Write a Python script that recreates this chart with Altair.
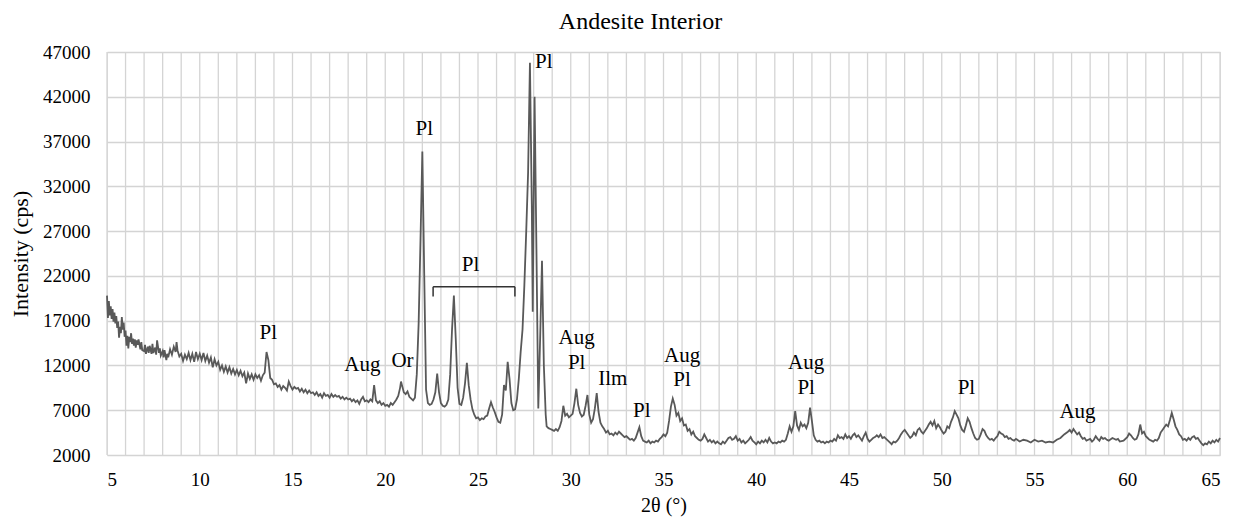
import altair as alt
import pandas as pd

two_theta = [
    5.0, 5.05, 5.1, 5.15, 5.2, 5.25, 5.3, 5.35, 5.4, 5.45, 5.5, 5.55, 5.6, 5.65, 5.7, 5.75, 5.8, 5.85, 5.9, 5.95,
    6.0, 6.05, 6.1, 6.15, 6.2, 6.25, 6.3, 6.35, 6.4, 6.45, 6.5, 6.55, 6.6, 6.65, 6.7, 6.8, 6.85, 6.9,
    7.0, 7.05, 7.1, 7.2, 7.25, 7.3, 7.4, 7.45, 7.5, 7.6, 7.65, 7.7, 7.8, 7.85, 7.9,
    8.0, 8.05, 8.1, 8.2, 8.25, 8.3, 8.4, 8.5, 8.6, 8.7, 8.75, 8.8, 8.9,
    9.0, 9.1, 9.2, 9.3, 9.4, 9.5, 9.6, 9.7, 9.8, 9.9,
    10.0, 10.1, 10.2, 10.3, 10.4, 10.5, 10.6, 10.7, 10.8, 10.9,
    11.0, 11.1, 11.2, 11.3, 11.4, 11.5, 11.6, 11.7, 11.8, 11.9,
    12.0, 12.1, 12.2, 12.3, 12.4, 12.5, 12.6, 12.7, 12.8, 12.9,
    13.0, 13.1, 13.2, 13.3, 13.4, 13.5, 13.6, 13.7, 13.8, 13.9,
    14.0, 14.1, 14.2, 14.3, 14.4, 14.5, 14.6, 14.7, 14.8, 14.9,
    15.0, 15.1, 15.2, 15.3, 15.4, 15.5, 15.6, 15.7, 15.8, 15.9,
    16.0, 16.1, 16.2, 16.3, 16.4, 16.5, 16.6, 16.7, 16.8, 16.9,
    17.0, 17.1, 17.2, 17.3, 17.4, 17.5, 17.6, 17.7, 17.8, 17.9,
    18.0, 18.1, 18.2, 18.3, 18.4, 18.5, 18.6, 18.7, 18.8, 18.9,
    19.0, 19.1, 19.2, 19.3, 19.4, 19.5, 19.6, 19.7, 19.8, 19.9,
    20.0, 20.1, 20.2, 20.3, 20.4, 20.5, 20.6, 20.7, 20.8, 20.85, 20.9,
    21.0, 21.1, 21.2, 21.3, 21.4, 21.5, 21.6, 21.7, 21.8, 21.9,
    22.0, 22.1, 22.2, 22.3, 22.4, 22.5, 22.6, 22.7, 22.8, 22.9,
    23.0, 23.1, 23.2, 23.3, 23.4, 23.5, 23.6, 23.7, 23.8, 23.9,
    24.0, 24.1, 24.2, 24.3, 24.4, 24.5, 24.6, 24.7, 24.8, 24.9,
    25.0, 25.1, 25.2, 25.3, 25.4, 25.5, 25.6, 25.7, 25.8, 25.9,
    26.0, 26.1, 26.2, 26.3, 26.4, 26.5, 26.6, 26.7, 26.8, 26.9,
    27.0, 27.1, 27.2, 27.3, 27.4, 27.5, 27.6, 27.7, 27.8, 27.9, 27.95,
    28.05, 28.15, 28.25, 28.35, 28.45, 28.55, 28.65, 28.7, 28.8, 28.9,
    29.0, 29.1, 29.2, 29.3, 29.4, 29.5, 29.6, 29.7, 29.8, 29.9,
    30.0, 30.1, 30.2, 30.3, 30.4, 30.5, 30.6, 30.7, 30.8, 30.9,
    31.0, 31.1, 31.2, 31.3, 31.4, 31.5, 31.6, 31.7, 31.8, 31.9,
    32.0, 32.1, 32.2, 32.3, 32.4, 32.5, 32.6, 32.7, 32.8, 32.9,
    33.0, 33.1, 33.2, 33.3, 33.4, 33.5, 33.6, 33.7, 33.8, 33.9,
    34.0, 34.1, 34.2, 34.3, 34.4, 34.5, 34.6, 34.7, 34.8, 34.9,
    35.0, 35.1, 35.2, 35.3, 35.4, 35.5, 35.6, 35.7, 35.8, 35.9,
    36.0, 36.1, 36.2, 36.3, 36.4, 36.5, 36.6, 36.7, 36.8, 36.9,
    37.0, 37.1, 37.2, 37.3, 37.4, 37.5, 37.6, 37.7, 37.8, 37.9,
    38.0, 38.1, 38.2, 38.3, 38.4, 38.5, 38.6, 38.7, 38.8, 38.9,
    39.0, 39.1, 39.2, 39.3, 39.4, 39.5, 39.6, 39.7, 39.8, 39.9,
    40.0, 40.1, 40.2, 40.3, 40.4, 40.5, 40.6, 40.7, 40.8, 40.9,
    41.0, 41.1, 41.2, 41.3, 41.4, 41.5, 41.6, 41.7, 41.8, 41.9,
    42.0, 42.1, 42.2, 42.3, 42.4, 42.5, 42.6, 42.7, 42.8, 42.9,
    43.0, 43.1, 43.2, 43.3, 43.4, 43.5, 43.6, 43.7, 43.8, 43.9,
    44.0, 44.1, 44.2, 44.3, 44.4, 44.5, 44.6, 44.7, 44.8, 44.9,
    45.0, 45.1, 45.2, 45.3, 45.4, 45.5, 45.6, 45.7, 45.8, 45.9,
    46.0, 46.1, 46.2, 46.3, 46.4, 46.5, 46.6, 46.7, 46.8, 46.9,
    47.0, 47.1, 47.2, 47.3, 47.4, 47.5, 47.6, 47.7, 47.8, 47.9,
    48.0, 48.1, 48.2, 48.3, 48.4, 48.5, 48.6, 48.7, 48.8, 48.9,
    49.0, 49.1, 49.2, 49.3, 49.4, 49.5, 49.6, 49.7, 49.8, 49.9,
    50.0, 50.1, 50.2, 50.3, 50.4, 50.5, 50.6, 50.7, 50.8, 50.9,
    51.0, 51.1, 51.2, 51.3, 51.4, 51.5, 51.6, 51.7, 51.8, 51.9,
    52.0, 52.1, 52.2, 52.3, 52.4, 52.5, 52.6, 52.7, 52.8, 52.9,
    53.0, 53.1, 53.2, 53.3, 53.4, 53.5, 53.6, 53.7, 53.8, 53.9,
    54.0, 54.2, 54.4, 54.6, 54.8, 55.0, 55.2, 55.4, 55.6, 55.8,
    56.0, 56.2, 56.4, 56.6, 56.8, 56.9, 57.0, 57.1, 57.2, 57.3, 57.4, 57.5, 57.6, 57.7, 57.8, 57.9,
    58.0, 58.1, 58.2, 58.3, 58.4, 58.5, 58.6, 58.7, 58.8, 58.9,
    59.0, 59.2, 59.4, 59.5, 59.6, 59.8,
    60.0, 60.1, 60.2, 60.3, 60.4, 60.5, 60.6, 60.7, 60.8, 60.9,
    61.0, 61.1, 61.2, 61.3, 61.4, 61.5, 61.6, 61.7, 61.8, 61.9,
    62.0, 62.1, 62.2, 62.3, 62.4, 62.5, 62.6, 62.7, 62.8, 62.9,
    63.0, 63.1, 63.2, 63.3, 63.4, 63.5, 63.6, 63.7, 63.8, 63.9,
    64.0, 64.1, 64.2, 64.3, 64.4, 64.5, 64.6, 64.7, 64.8, 64.9, 65.0,
]

intensity = [
    19800, 17300, 19200, 17600, 18600, 17200, 18300, 16900, 17900, 16700, 17500, 16200, 16900, 15100, 16300, 15600, 17400, 16000, 16800, 15200,
    15900, 14200, 15300, 13900, 15200, 14600, 15600, 14400, 15000, 14200, 14900, 14000, 14800, 14300, 14900, 13800, 14600, 13700,
    13600, 14300, 13300, 14100, 13400, 14200, 13300, 14400, 13400, 14000, 13200, 14800, 13400, 13900, 13100,
    13600, 12900, 13700, 12600, 13300, 12900, 13800, 13200, 14100, 13500, 14600, 13700, 13000,
    13300, 12500, 13200, 12700, 13400, 12600, 13300, 12400, 13500, 12700,
    13300, 12600, 13400, 12500, 13100, 12300, 12900, 11800, 12700, 12000,
    12400, 11500, 12000, 11300, 11900, 11200, 11800, 11100, 11600, 11000,
    11500, 10900, 11400, 10800, 11200, 10000, 11100, 10500, 11000, 10400,
    11000, 10600, 10900, 10300, 10900, 11200, 13500, 12600, 10600, 10400,
    9900, 10000, 9600, 9800, 9300, 9700, 9500, 9200, 10200, 9700,
    9300, 9600, 9400, 9500, 9100, 9400, 9000, 9300, 8900, 9200,
    8900, 9000, 8700, 9000, 8600, 8800, 8400, 8900, 8600, 8700,
    8400, 8800, 8500, 8700, 8500, 8600, 8300, 8500, 8200, 8400,
    8200, 8300, 8000, 8200, 7900, 8100, 7700, 8200, 8500, 8000,
    8100, 7900, 8200, 8000, 9800, 8100, 7800, 8000, 7600, 7800,
    7500, 7600, 7400, 7800, 7600, 7900, 8200, 8600, 9500, 10200, 9800,
    9000, 8800, 9100, 8500, 8300, 8100, 8400, 11000, 16700, 26000,
    35900, 22300, 9300, 7800, 7600, 7700, 8200, 9000, 11100, 9000,
    7800, 7500, 7400, 7600, 8200, 11000, 16000, 19800, 15000, 9500,
    7700, 7600, 8400, 10000, 12300, 9800, 8200, 7100, 6500, 6100,
    6200, 5900, 6100, 6000, 6300, 6400, 7200, 7900, 7300, 6800,
    6200, 5700, 5600, 6500, 9800, 9200, 12400, 10500, 7800, 7000,
    7100, 8200, 10500, 13500, 16000, 21000, 27000, 33500, 45800, 30000, 18000,
    42000, 25000, 7200, 15000, 23700, 12000, 6500, 5200, 5000, 4900,
    4800, 4700, 4900, 4700, 5100, 5800, 7500, 6400, 6600, 6200,
    6400, 6600, 7800, 9400, 7600, 6700, 6300, 6500, 7500, 8700,
    6500, 5600, 6000, 7200, 8900, 6800, 5600, 5200, 4900, 4500,
    4700, 4300, 4400, 4200, 4500, 4300, 4600, 4400, 4200, 4000,
    4100, 3900, 3700, 3800, 3600, 3900, 4500, 5100, 4100, 3600,
    3500, 3400, 3600, 3300, 3500, 3400, 3600, 3500, 3800, 4000,
    4300, 4100, 4500, 5800, 7400, 8300, 7600, 6400, 6700, 5800,
    6100, 5300, 5400, 4700, 4900, 4300, 4600, 4100, 3900, 3700,
    3600, 3800, 4300, 3900, 3500, 3700, 3400, 3600, 3300, 3500,
    3300, 3200, 3500, 3300, 3600, 3900, 4000, 3700, 3800, 4100,
    3600, 3800, 3400, 3600, 3300, 3500, 3700, 4000, 3600, 3400,
    3200, 3500, 3300, 3600, 3400, 3700, 3400, 3900, 3500, 3300,
    3400, 3300, 3500, 3400, 3600, 3500, 3700, 4400, 5200, 4600,
    5200, 6900, 5300, 4800, 5600, 5200, 5400, 5000, 5600, 7300,
    5800, 4200, 3700, 3500, 3600, 3400, 3500, 3300, 3500, 3400,
    3600, 3500, 3800, 3600, 4200, 3900, 4000, 3800, 4300, 3900,
    4100, 3800, 4200, 4400, 4000, 4200, 3900, 3600, 4100, 4500,
    3800, 3500, 3700, 3900, 4000, 4200, 4000, 4300, 3900, 4000,
    3800, 3600, 3400, 3200, 3500, 3400, 3600, 3900, 4300, 4600,
    4800, 4500, 4200, 3900, 4100, 4500, 4200, 4800, 5000, 4600,
    4400, 4700, 5000, 5400, 5700, 5300, 5800, 5000, 5400, 5100,
    4700, 4400, 4600, 5200, 5000, 5700, 6200, 6900, 6500, 6100,
    5300, 4800, 4600, 5300, 6100, 5700, 5000, 4400, 3900, 3700,
    3800, 4300, 4900, 4700, 4200, 3900, 3700, 3800, 3600, 3900,
    4100, 4600, 4400, 4300, 4000, 4100, 3800, 3900, 3700, 3600,
    3800, 3500, 3700, 3600, 3400, 3700, 3500, 3600, 3400, 3500,
    3400, 3700, 3900, 4300, 4600, 4800, 4500, 4900, 4600, 4300, 4500, 4100, 3800, 3900, 3600, 3700,
    3800, 3500, 3700, 4100, 3800, 3600, 4000, 3800, 3900, 3700,
    3600, 3900, 3700, 3800, 3500, 3600,
    4000, 4400, 4200, 3900, 3700, 3800, 4300, 5400, 4400, 4600,
    4100, 3900, 3700, 3600, 3500, 3700, 3600, 3900, 4500, 4800,
    5100, 5400, 5200, 5900, 6700, 6000, 5200, 4800, 4300, 4100,
    3700, 3800, 3600, 3900, 3700, 4000, 4100, 3800, 3900, 3600,
    3300, 3100, 3300, 3200, 3500, 3300, 3600, 3400, 3700, 3500, 3900,
]

label_text = ["Pl", "Aug", "Or", "Pl", "Pl", "Pl", "Aug", "Pl", "Ilm", "Pl", "Aug", "Pl", "Aug", "Pl", "Pl", "Aug"]
label_x = [13.69, 18.77, 20.93, 22.1, 24.6, 28.55, 30.32, 30.32, 32.27, 33.83, 36.0, 36.0, 42.69, 42.69, 51.33, 57.32]
label_y = [15630, 12050, 12500, 38400, 23250, 45900, 15070, 12280, 10490, 6900, 13060, 10380, 12280, 9480, 9480, 6800]

bracket_x = [22.58, 22.58, 26.99]
bracket_x2 = [26.99, 22.58, 26.99]
bracket_y = [20800, 20800, 20800]
bracket_y2 = [20800, 19700, 19700]

y_ticks = [2000, 7000, 12000, 17000, 22000, 27000, 32000, 37000, 42000, 47000]
x_ticks = [5, 10, 15, 20, 25, 30, 35, 40, 45, 50, 55, 60, 65]
x_grid = list(range(5, 66))

FONT = "Liberation Serif, Times New Roman, DejaVu Serif, serif"
GRID = "#d4d4d4"

df = pd.DataFrame({"x": two_theta, "y": intensity})
labels = pd.DataFrame({"t": label_text, "x": label_x, "y": label_y})
brackets = pd.DataFrame({"x": bracket_x, "x2": bracket_x2, "y": bracket_y, "y2": bracket_y2})
grid_df = pd.DataFrame({"x": x_grid})

xscale = alt.Scale(domain=[5, 65], nice=False, zero=False)
yscale = alt.Scale(domain=[2000, 47000], nice=False, zero=False)

x_axis = alt.Axis(values=x_ticks, title="2θ (°)", format="d",
                  grid=False, ticks=False, domain=False, labelPadding=15,
                  labelOverlap=False,
                  labelFont=FONT, labelFontSize=19, labelColor="#000",
                  titleFont=FONT, titleFontSize=20, titleFontWeight="normal",
                  titleColor="#000", titleY=50, titleBaseline="middle")

y_axis = alt.Axis(values=y_ticks, title="Intensity (cps)", format="d",
                  grid=True, gridColor=GRID, gridWidth=1.5,
                  ticks=False, domain=False, labelPadding=17,
                  labelOverlap=False,
                  labelFont=FONT, labelFontSize=19, labelColor="#000",
                  titleFont=FONT, titleFontSize=22, titleFontWeight="normal",
                  titleColor="#000", titleX=-87, titleBaseline="middle")

vgrid = alt.Chart(grid_df).mark_rule(color=GRID, strokeWidth=1.3).encode(
    x=alt.X("x:Q", scale=xscale, axis=x_axis),
)

line = alt.Chart(df).mark_line(color="#595959", strokeWidth=1.8).encode(
    x=alt.X("x:Q", scale=xscale, axis=x_axis),
    y=alt.Y("y:Q", scale=yscale, axis=y_axis),
)

text = alt.Chart(labels).mark_text(font=FONT, fontSize=21, color="#000", align="center", baseline="middle").encode(
    x=alt.X("x:Q", scale=xscale),
    y=alt.Y("y:Q", scale=yscale),
    text="t:N",
)

bracket = alt.Chart(brackets).mark_rule(color="#333333", strokeWidth=1.5).encode(
    x=alt.X("x:Q", scale=xscale),
    x2="x2:Q",
    y=alt.Y("y:Q", scale=yscale),
    y2="y2:Q",
)

chart = alt.layer(vgrid, line, bracket, text).properties(
    width=1113,
    height=403,
    title=alt.TitleParams("Andesite Interior", font=FONT, fontSize=24, fontWeight="normal",
                          color="#000", anchor="middle", dx=-23, offset=9),
    autosize=alt.AutoSizeParams(type="none"),
    padding={"left": 107, "top": 52, "right": 22, "bottom": 68},
).configure_view(stroke=GRID, strokeWidth=1.5).configure(background="white")

chart.save("out.html", embed_options={"renderer": "svg", "actions": False})
